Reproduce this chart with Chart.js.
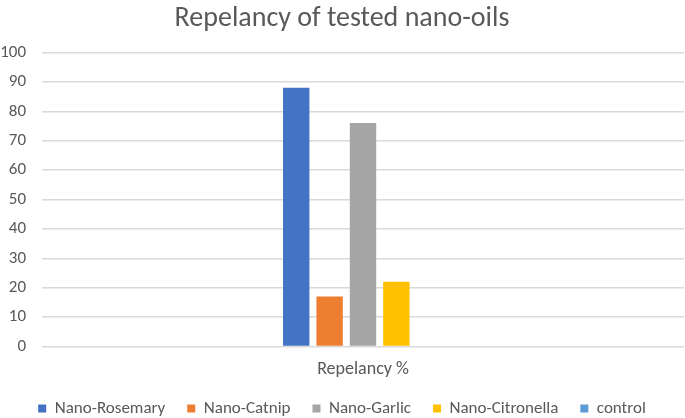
<!DOCTYPE html>
<html>
<head>
<meta charset="utf-8">
<script src="https://cdn.jsdelivr.net/npm/chart.js@4"></script>
<style>
  html, body { margin: 0; padding: 0; background: #fff; }
  #wrap { width: 685px; height: 418px; }
</style>
</head>
<body>
<div id="wrap"><canvas id="chart"></canvas></div>
<script>
// chart data
const categories = ["Repelancy %"];
const seriesNames = ["Nano-Rosemary", "Nano-Catnip", "Nano-Garlic", "Nano-Citronella", "control"];
const seriesValues = [88, 17, 76, 22, 0];
const seriesColors = ["#4472c4", "#ed7d31", "#a5a5a5", "#ffc000", "#5b9bd5"];

const fontFam = "Carlito, Calibri, Lato, 'Noto Sans', sans-serif";

const datasets = seriesNames.map((name, i) => ({
    label: name,
    data: [seriesValues[i]],
    backgroundColor: seriesColors[i],
    borderWidth: 0,
    barPercentage: 0.79,
    categoryPercentage: 0.26
}));

const ctx = document.getElementById("chart");
const chart = new Chart(ctx, {
    type: "bar",
    data: { labels: categories, datasets: datasets },
    options: {
        responsive: true,
        maintainAspectRatio: false,
        animation: false,
        layout: { padding: { left: 0, right: 1, top: 2, bottom: -9 } },
        plugins: {
            title: {
                display: true,
                text: "Repelancy of tested nano-oils",
                color: "#595959",
                font: { family: fontFam, size: 28, weight: "normal" },
                padding: { top: 0, bottom: 17 }
            },
            legend: {
                position: "bottom",
                labels: {
                    color: "#595959",
                    font: { family: fontFam, size: 17 },
                    boxWidth: 8,
                    boxHeight: 8,
                    padding: 22
                }
            },
            tooltip: { enabled: false }
        },
        scales: {
            x: {
                afterFit: (scale) => { scale.height -= 6; },
                grid: { display: false },
                border: { display: false },
                ticks: { color: "#595959", font: { family: fontFam, size: 18 }, padding: 4 }
            },
            y: {
                min: 0,
                max: 100,
                afterFit: (scale) => { scale.width = 42; },
                ticks: { stepSize: 10, color: "#595959", font: { family: fontFam, size: 17 }, padding: 16 },
                grid: { color: "#d9d9d9", lineWidth: 1.5, drawTicks: false },
                border: { display: false }
            }
        }
    }
});
</script>
</body>
</html>
